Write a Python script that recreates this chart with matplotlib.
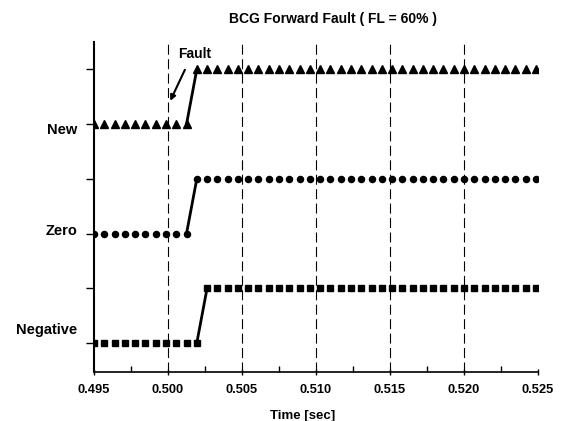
import numpy as np
import matplotlib.pyplot as plt

plt.rcParams['font.family'] = ['Liberation Sans', 'DejaVu Sans']

# sample grid: 1440 Hz from 0.495 s
fs = 1440.0
t0 = 0.495
n = 44

# relay states (0 = no operation, 1 = operated) per sample
new_state = [0]*10 + [1]*34
zero_state = [0]*10 + [1]*34
neg_state = [0]*11 + [1]*33

base_levels = [4, 2, 0]
labels = ["New", "Zero", "Negative"]
label_y = [3.9, 2.05, 0.24]
markers = ["^", "o", "s"]
msizes = [5.5, 4.4, 3.9]

xticks = [0.495, 0.500, 0.505, 0.510, 0.515, 0.520, 0.525]
xticklabels = ["0.495", "0.500", "0.505", "0.510", "0.515", "0.520", "0.525"]

t = t0 + np.arange(n) / fs

fig = plt.figure(figsize=(5.61, 4.21), dpi=100)
ax = fig.add_axes([0.1676, 0.1164, 0.7914, 0.7836])

for state, base, mk, ms in zip([new_state, zero_state, neg_state], base_levels, markers, msizes):
    y = base + np.array(state)
    ax.plot(t, y, ls='none', marker=mk, ms=ms, mec='black', mfc='black')
    # solid line only on the switching step
    jump = np.where(np.diff(y) != 0)[0]
    for j in jump:
        ax.plot(t[j:j+2], y[j:j+2], color='black', lw=2.0, solid_capstyle='round')

for x in xticks[1:-1]:
    ax.axvline(x, color='black', lw=0.8, ls=(0, (9, 4)), zorder=0)

ax.set_xlim(0.495, 0.525)
ax.set_ylim(-0.53, 5.5)
ax.set_xticks(xticks)
ax.set_xticklabels(xticklabels, fontsize=9.3, fontweight='bold')
ax.set_xticks(np.arange(0.4975, 0.525, 0.005), minor=True)
ax.tick_params(axis='x', which='major', direction='inout', length=5, width=1, pad=6)
ax.tick_params(axis='x', which='minor', direction='in', length=4, width=1)
ax.set_yticks(range(6))
ax.set_yticklabels([])
ax.tick_params(axis='y', direction='out', length=6, width=1)

for lab, ly in zip(labels, label_y):
    ax.text(-0.038, ly, lab, transform=ax.get_yaxis_transform(), ha='right', va='center',
            fontsize=10.5, fontweight='bold')

ax.spines['top'].set_visible(False)
ax.spines['right'].set_visible(False)
ax.spines['left'].set_linewidth(1.5)
ax.spines['bottom'].set_linewidth(1.2)

ax.set_xlabel("Time [sec]", fontsize=9.5, fontweight='bold', labelpad=8)
ax.xaxis.set_label_coords(0.47, -0.115)
fig.text(0.594, 0.955, "BCG Forward Fault ( FL = 60% )", ha='center', va='center',
         fontsize=10, fontweight='bold')

ax.annotate("", xy=(0.50007, 4.38), xytext=(0.50122, 5.04),
            arrowprops=dict(arrowstyle='-|>', color='black', lw=1.5, mutation_scale=8))
ax.text(0.50068, 5.29, "Fault", fontsize=10, fontweight='bold', ha='left', va='center')

fig.savefig("out.png", dpi=100)
